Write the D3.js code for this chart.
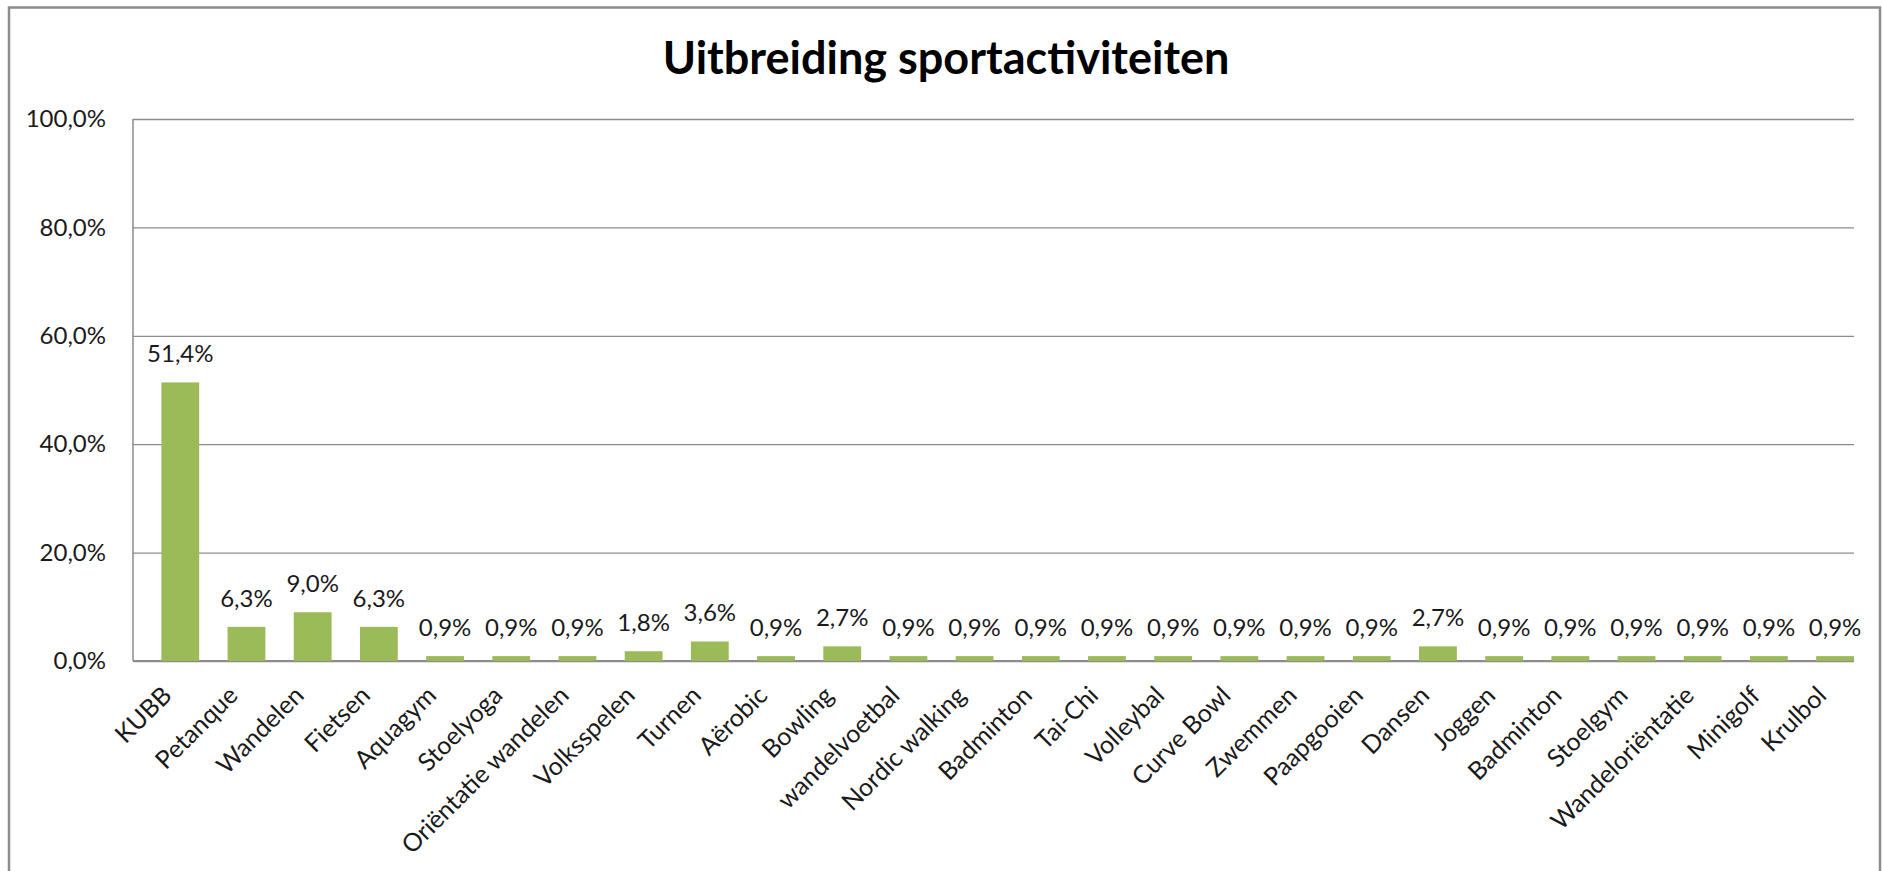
<!DOCTYPE html>
<html>
<head>
<meta charset="utf-8">
<script src="https://cdn.jsdelivr.net/npm/d3@7"></script>
<style>
  body { margin: 0; background: #ffffff; }
  text { font-family: Lato, "Open Sans", sans-serif; fill: #1a1a1a; }
</style>
</head>
<body>
<div id="chart-area"></div>
<script>

// BAR CHART - UITBREIDING SPORTACTIVITEITEN

const categories = ["KUBB", "Petanque", "Wandelen", "Fietsen", "Aquagym", "Stoelyoga", "Oriëntatie wandelen",
    "Volksspelen", "Turnen", "Aërobic", "Bowling", "wandelvoetbal", "Nordic walking", "Badminton", "Tai-Chi",
    "Volleybal", "Curve Bowl", "Zwemmen", "Paapgooien", "Dansen", "Joggen", "Badminton", "Stoelgym",
    "Wandeloriëntatie", "Minigolf", "Krulbol"]
const values = [51.4, 6.3, 9.0, 6.3, 0.9, 0.9, 0.9, 1.8, 3.6, 0.9, 2.7, 0.9, 0.9, 0.9, 0.9,
    0.9, 0.9, 0.9, 0.9, 2.7, 0.9, 0.9, 0.9, 0.9, 0.9, 0.9]
const yTicks = [0, 20, 40, 60, 80, 100]
const title = "Uitbreiding sportactiviteiten"

// Set up margins
const MARGINS = { TOP: 119, BOTTOM: 210, LEFT: 133, RIGHT: 29 }
const WIDTH = 1883 - MARGINS.LEFT - MARGINS.RIGHT
const HEIGHT = 871 - MARGINS.TOP - MARGINS.BOTTOM
const GAP = 0.75 / 1.75 // excel gap width 75%

const nl = d3.formatLocale({ decimal: ",", thousands: ".", grouping: [3], currency: ["€", ""] })
const fmt = nl.format(".1f")

const svg = d3.select("#chart-area").append("svg")
    .attr("width", 1883)
    .attr("height", 871)

// chart border
svg.append("rect")
    .attr("x", 9)
    .attr("y", 7.5)
    .attr("width", 1871)
    .attr("height", 900)
    .attr("fill", "none")
    .attr("stroke", "#8c8c8c")
    .attr("stroke-width", 2.5)

svg.append("text")
    .attr("x", 946)
    .attr("y", 74)
    .attr("text-anchor", "middle")
    .attr("font-size", "45px")
    .attr("font-weight", 700)
    .style("fill", "#000")
    .text(title)

const g = svg.append("g")
    .attr("transform", `translate(${MARGINS.LEFT}, ${MARGINS.TOP})`)

const x = d3.scaleBand()
    .domain(d3.range(categories.length))
    .range([0, WIDTH])
    .paddingInner(GAP)
    .paddingOuter(GAP / 2)

const y = d3.scaleLinear()
    .domain([0, 100])
    .range([HEIGHT, 0])

// excel draws the bars to the right of each slot
const barX = i => x(i) + x.step() * GAP / 2

// gridlines + y labels
const yAxis = d3.axisLeft(y)
    .tickValues(yTicks)
    .tickSize(-WIDTH)
    .tickPadding(27)
    .tickFormat(d => fmt(d) + "%")
const yG = g.append("g")
    .attr("class", "y-axis")
    .call(yAxis)
yG.select(".domain").remove()
yG.selectAll("line")
    .attr("stroke", "#8c8c8c")
    .attr("stroke-width", 1.3)
yG.selectAll("text")
    .attr("font-size", "24px")
    .attr("font-family", "Lato")
    .attr("fill", "#1a1a1a")

// axis lines
g.append("line")
    .attr("x1", 0).attr("x2", 0)
    .attr("y1", 0).attr("y2", HEIGHT)
    .attr("stroke", "#8c8c8c")
    .attr("stroke-width", 1.5)

g.append("line")
    .attr("x1", 0).attr("x2", WIDTH)
    .attr("y1", HEIGHT).attr("y2", HEIGHT)
    .attr("stroke", "#8c8c8c")
    .attr("stroke-width", 2)

// bars
g.selectAll("rect.bar")
    .data(values)
    .enter().append("rect")
    .attr("class", "bar")
    .attr("x", (d, i) => barX(i))
    .attr("y", d => y(d))
    .attr("width", x.bandwidth())
    .attr("height", d => HEIGHT - y(d))
    .attr("fill", "#9bbb59")

// value labels
g.selectAll("text.val")
    .data(values)
    .enter().append("text")
    .attr("class", "val")
    .attr("x", (d, i) => barX(i) + x.bandwidth() / 2)
    .attr("y", d => y(d) - 20)
    .attr("text-anchor", "middle")
    .attr("font-size", "24px")
    .text(d => fmt(d) + "%")

// category labels
g.selectAll("text.cat")
    .data(categories)
    .enter().append("text")
    .attr("class", "cat")
    .attr("text-anchor", "end")
    .attr("font-size", "25px")
    .attr("transform", (d, i) => `translate(${x(i) + x.bandwidth() / 2 + 7}, ${HEIGHT + 36}) rotate(-45)`)
    .text(d => d)

</script>
</body>
</html>
